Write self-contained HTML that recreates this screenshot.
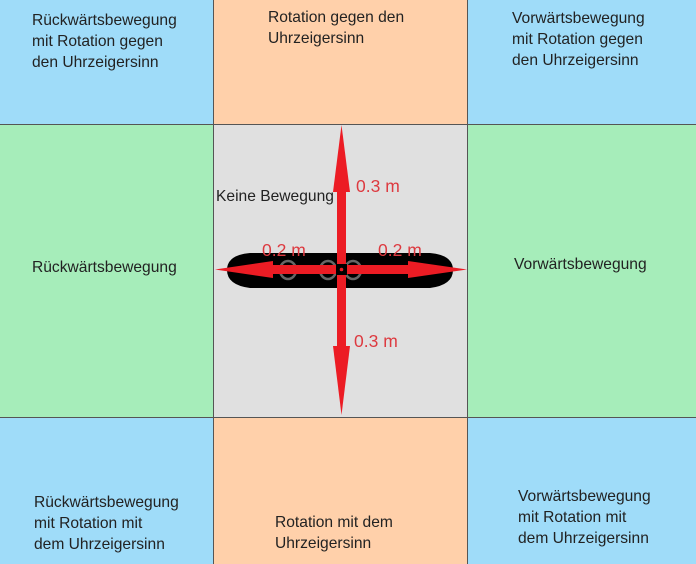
<!DOCTYPE html>
<html><head><meta charset="utf-8"><style>
html,body{margin:0;padding:0}
body{width:696px;height:564px;position:relative;overflow:hidden;font-family:"Liberation Sans",sans-serif;font-size:15.6px;color:#222}
.c{position:absolute;box-sizing:border-box}
.t{position:absolute;line-height:21px}
</style></head><body>
<div class="c" style="left:0;top:0;width:213px;height:124px;background:#9fdcf9"></div>
<div class="c" style="left:213px;top:0;width:254px;height:124px;background:#ffd0aa"></div>
<div class="c" style="left:467px;top:0;width:229px;height:124px;background:#9fdcf9"></div>
<div class="c" style="left:0;top:124px;width:213px;height:293px;background:#a6edba"></div>
<div class="c" style="left:213px;top:124px;width:254px;height:293px;background:#e0e0e0"></div>
<div class="c" style="left:467px;top:124px;width:229px;height:293px;background:#a6edba"></div>
<div class="c" style="left:0;top:417px;width:213px;height:147px;background:#9fdcf9"></div>
<div class="c" style="left:213px;top:417px;width:254px;height:147px;background:#ffd0aa"></div>
<div class="c" style="left:467px;top:417px;width:229px;height:147px;background:#9fdcf9"></div>
<div class="c" style="left:213px;top:0;width:1px;height:564px;background:#555"></div>
<div class="c" style="left:467px;top:0;width:1px;height:564px;background:#555"></div>
<div class="c" style="left:0;top:124px;width:696px;height:1px;background:#555"></div>
<div class="c" style="left:0;top:417px;width:696px;height:1px;background:#555"></div>

<div class="t" style="left:32px;top:10px">Rückwärtsbewegung<br>mit Rotation gegen<br>den Uhrzeigersinn</div>
<div class="t" style="left:268px;top:7px">Rotation gegen den<br>Uhrzeigersinn</div>
<div class="t" style="left:512px;top:8px">Vorwärtsbewegung<br>mit Rotation gegen<br>den Uhrzeigersinn</div>
<div class="t" style="left:32px;top:257px">Rückwärtsbewegung</div>
<div class="t" style="left:216px;top:186px">Keine Bewegung</div>
<div class="t" style="left:514px;top:254px">Vorwärtsbewegung</div>
<div class="t" style="left:34px;top:492px">Rückwärtsbewegung<br>mit Rotation mit<br>dem Uhrzeigersinn</div>
<div class="t" style="left:275px;top:512px">Rotation mit dem<br>Uhrzeigersinn</div>
<div class="t" style="left:518px;top:486px">Vorwärtsbewegung<br>mit Rotation mit<br>dem Uhrzeigersinn</div>

<svg width="696" height="564" style="position:absolute;left:0;top:0">
<path d="M250 253 H430 Q453 255 453 270 Q453 285 430 288 H250 Q227 285 227 270 Q227 255 250 253 Z" fill="#000"/>
<g fill="none" stroke="#666" stroke-width="2.5">
<ellipse cx="288" cy="270" rx="8" ry="9"/><ellipse cx="328" cy="270" rx="8" ry="9"/><ellipse cx="353" cy="270" rx="8" ry="9"/>
</g>
<g fill="#ec1c24">
<rect x="337" y="185" width="9" height="170"/>
<polygon points="341.5,125 333,192 350,192"/>
<polygon points="341.5,415 333,346 350,346"/>
<rect x="270" y="265" width="68" height="9"/>
<rect x="346" y="265" width="65" height="9"/>
<polygon points="215,269.5 273,261 273,278"/>
<polygon points="467,269.5 408,261 408,278"/>
</g>
<rect x="336" y="264" width="11" height="11" fill="#000"/>
<circle cx="341.5" cy="269.5" r="1.8" fill="#ec1c24"/>
<g fill="#dd3a40" font-family="Liberation Sans, sans-serif" font-size="17.5">
<text x="356" y="192">0.3 m</text>
<text x="354" y="347">0.3 m</text>
<text x="262" y="256">0.2 m</text>
<text x="378" y="256">0.2 m</text>
</g>
</svg>
</body></html>
